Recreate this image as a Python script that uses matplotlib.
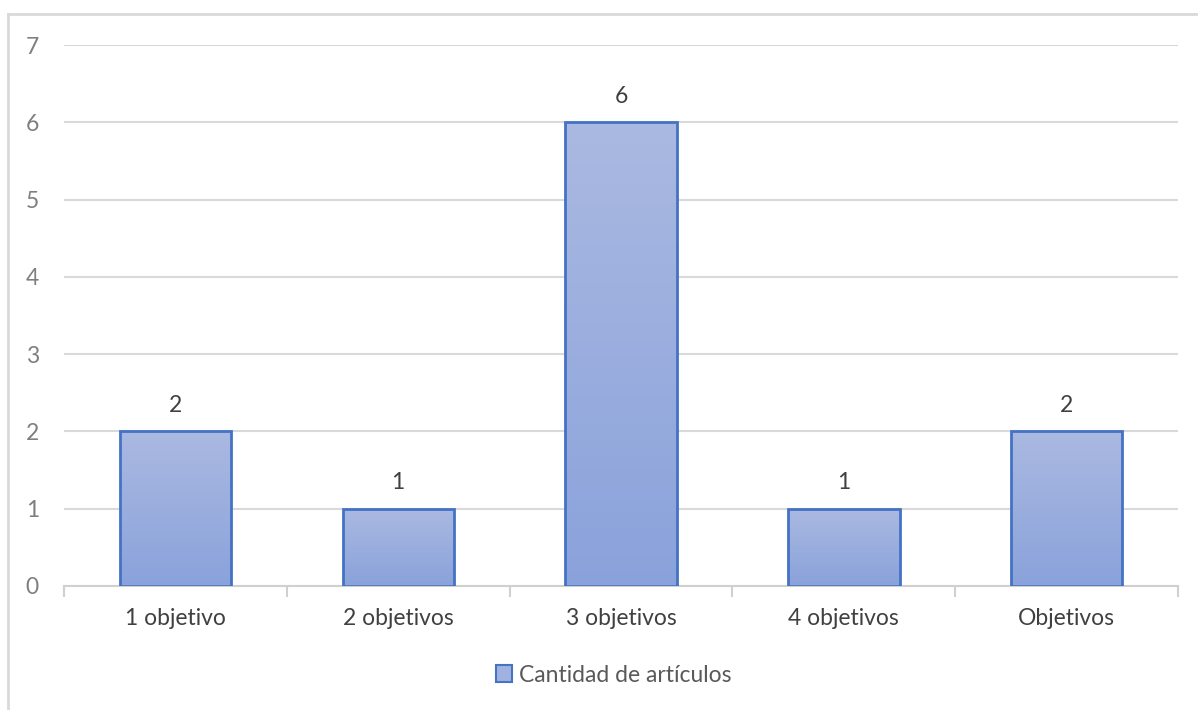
import matplotlib
matplotlib.use("Agg")
import matplotlib.pyplot as plt
import numpy as np
from matplotlib.patches import Rectangle
from matplotlib.lines import Line2D
from matplotlib.colors import LinearSegmentedColormap

categories = ["1 objetivo", "2 objetivos", "3 objetivos", "4 objetivos", "Objetivos"]
values = [2, 1, 6, 1, 2]
series_name = "Cantidad de artículos"
y_ticks = [0, 1, 2, 3, 4, 5, 6, 7]

plt.rcParams['font.family'] = ['Lato', 'DejaVu Sans']
FS = 16.5

W, H = 1198, 710
fig = plt.figure(figsize=(W / 100, H / 100), dpi=100)
fig.patch.set_facecolor("white")

# outer chart frame (top and left edges visible)
fig.add_artist(Line2D([8 / W, 1], [1 - 14 / H, 1 - 14 / H], transform=fig.transFigure,
                      color="#d9d9d9", lw=2))
fig.add_artist(Line2D([8 / W, 8 / W], [0, 1 - 14 / H], transform=fig.transFigure,
                      color="#d9d9d9", lw=2))

ax = fig.add_axes([64 / W, 1 - 586 / H, (1178 - 64) / W, (586 - 45) / H])
ax.set_xlim(-0.5, len(categories) - 0.5)
ax.set_ylim(0, 7)

for s in ["top", "right", "left"]:
    ax.spines[s].set_visible(False)
ax.spines["bottom"].set_color("#d0d0d0")
ax.spines["bottom"].set_linewidth(1.5)

ax.set_yticks(y_ticks)
ax.tick_params(axis="y", length=0, labelsize=FS, labelcolor="#7f7f7f", pad=18)
ax.yaxis.grid(True, color="#d9d9d9", lw=1.5)
ax.set_axisbelow(True)

x = np.arange(len(categories))
ax.set_xticks(x)
ax.set_xticklabels(categories)
ax.tick_params(axis="x", length=0, labelsize=FS, labelcolor="#404040", pad=16)
ax.set_xticks(np.arange(len(categories) + 1) - 0.5, minor=True)
ax.tick_params(axis="x", which="minor", length=8, width=1.5, color="#d0d0d0")

cmap = LinearSegmentedColormap.from_list("barfill", ["#8aa2db", "#aab9e1"])
grad = np.linspace(0, 1, 256).reshape(-1, 1)
bars = ax.bar(x, values, width=0.5, facecolor="none", edgecolor="#4472c4", lw=2, zorder=3)
for b, v in zip(bars, values):
    x0, w = b.get_x(), b.get_width()
    im = ax.imshow(grad, cmap=cmap, origin="lower", aspect="auto",
                   extent=[x0, x0 + w, 0, v], zorder=2)
    im.set_clip_path(b)
    ax.annotate(str(v), (x0 + w / 2, v), xytext=(0, 11), textcoords="offset points",
                ha="center", va="bottom", fontsize=FS, color="#404040")

ax.set_xlim(-0.5, len(categories) - 0.5)
ax.set_ylim(0, 7)

handle = Rectangle((0, 0), 1, 1, facecolor="#a0b2df", edgecolor="#4472c4", lw=1.5)
fig.legend([handle], [series_name], loc="center", bbox_to_anchor=(614 / W, 1 - 675 / H),
           frameon=False, fontsize=FS, labelcolor="#595959", handlelength=0.7,
           handleheight=0.7, handletextpad=0.3)

fig.savefig("out.png", dpi=100, facecolor="white")
